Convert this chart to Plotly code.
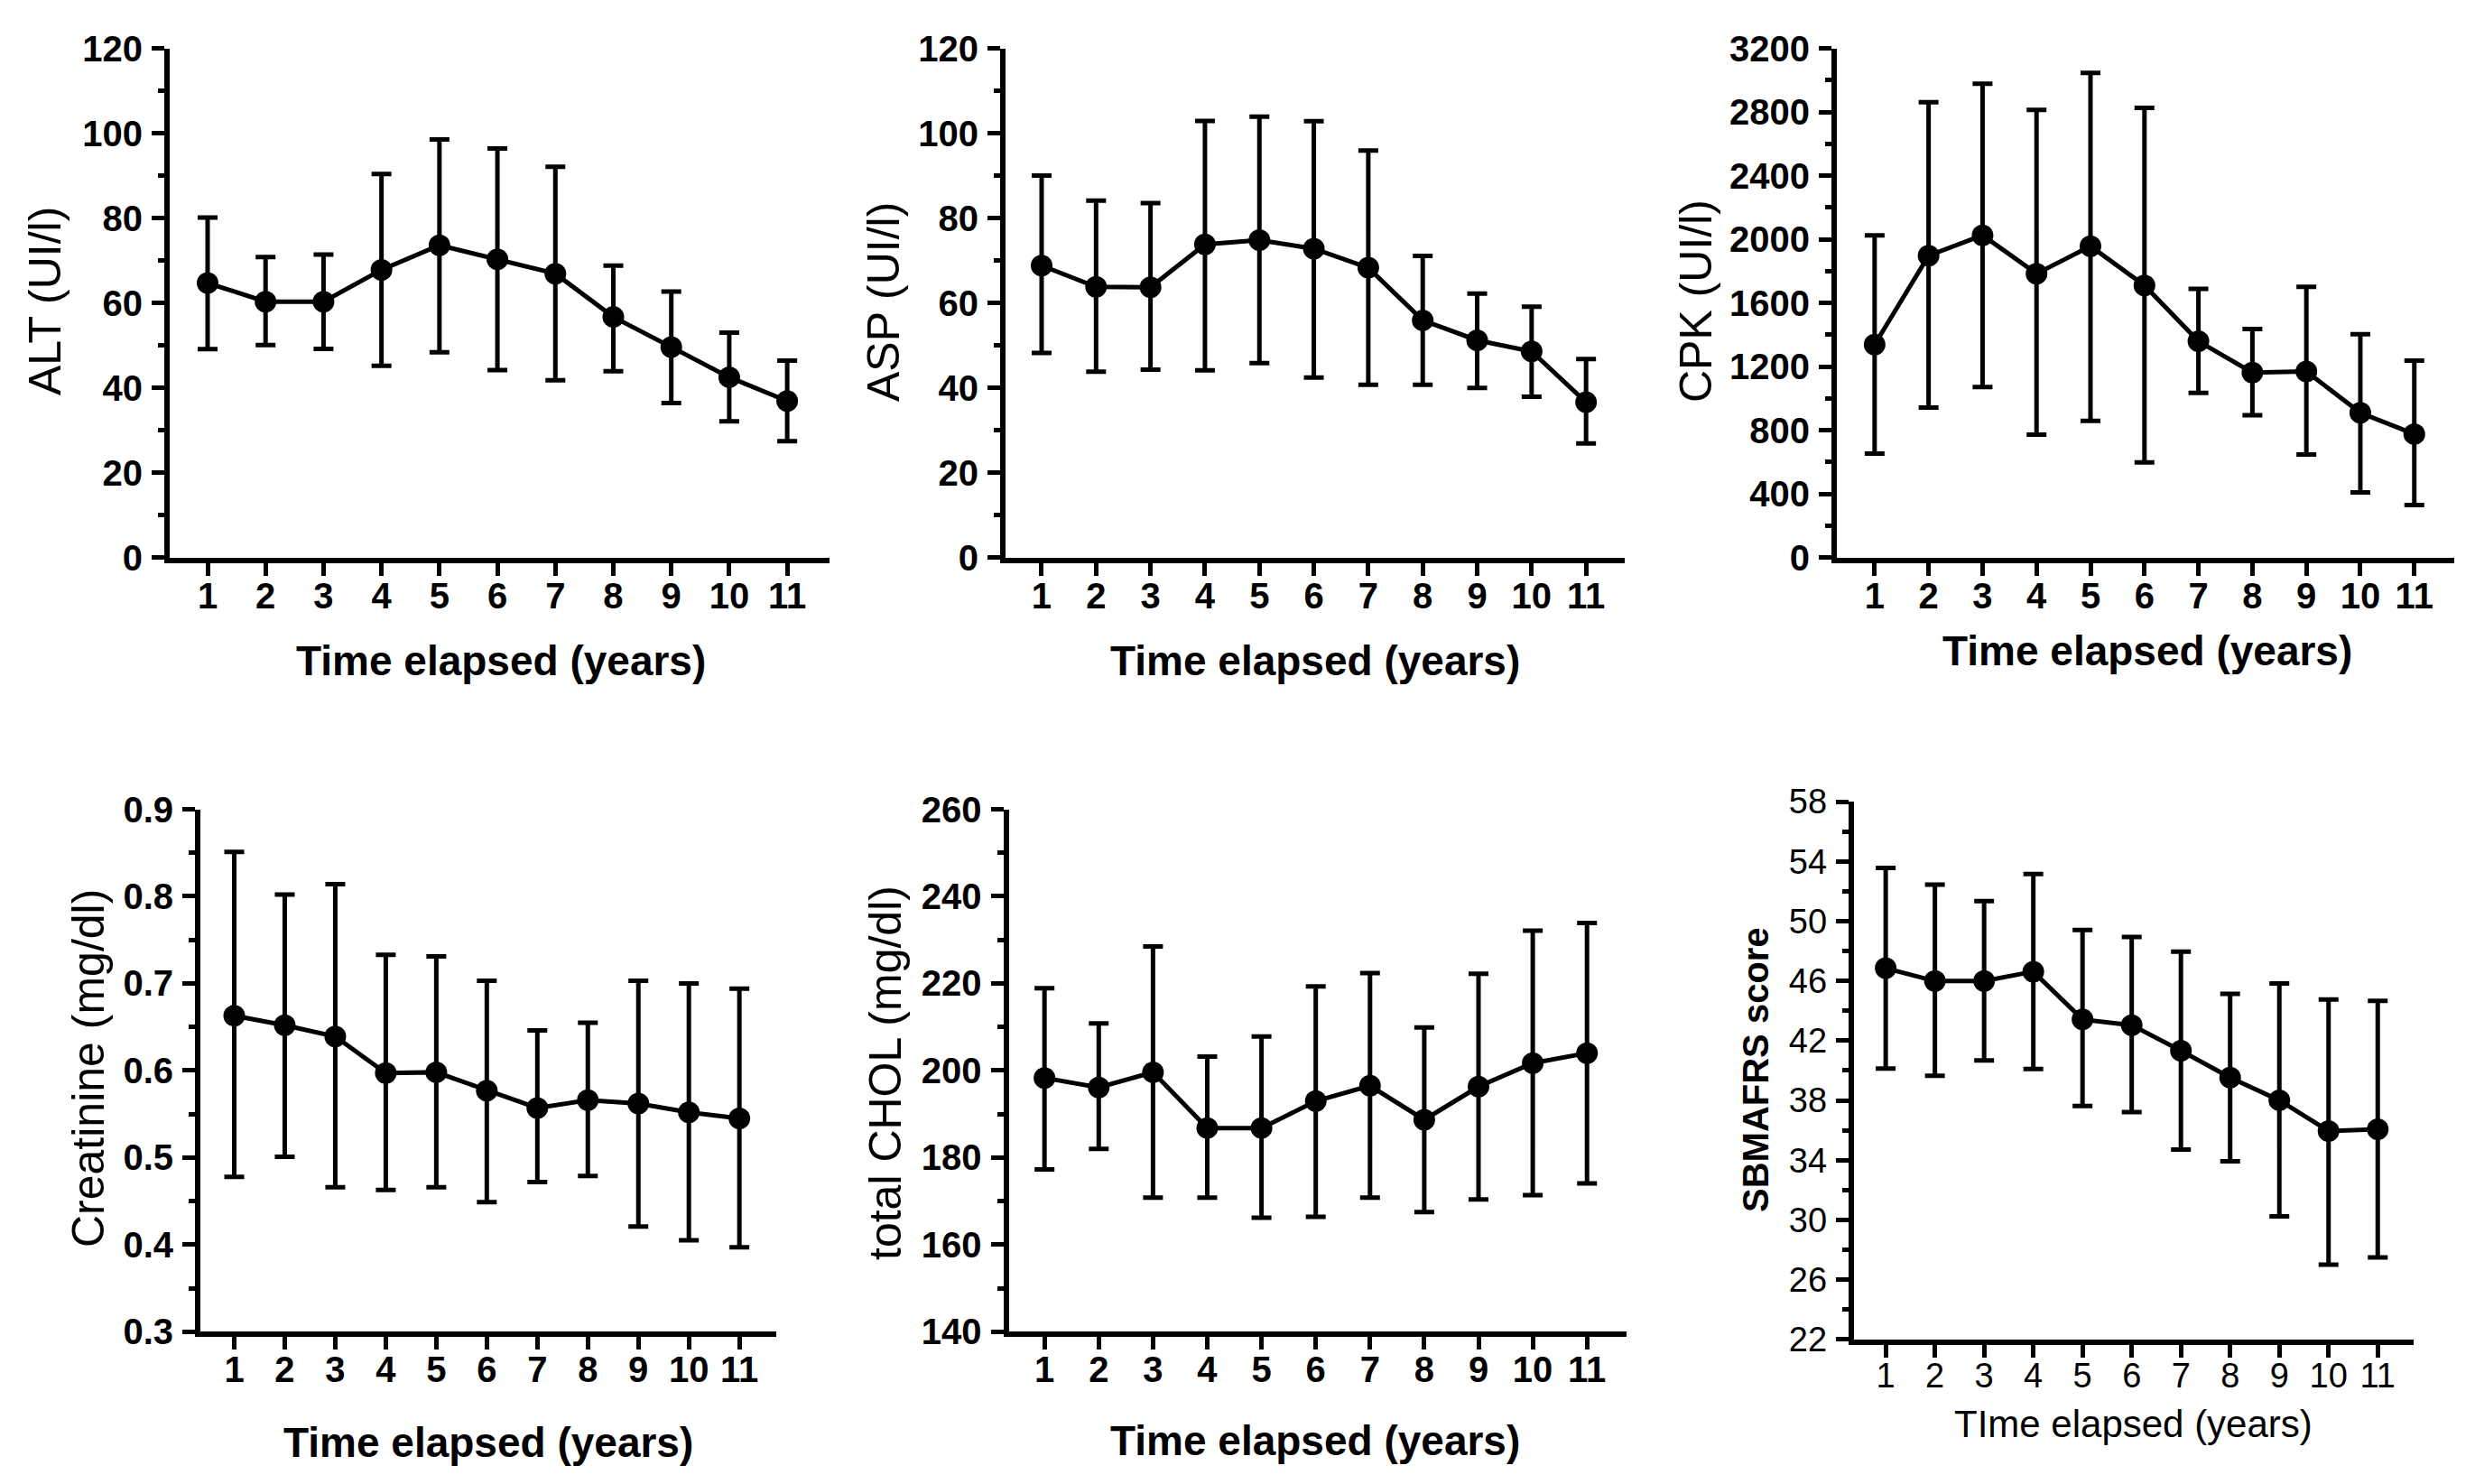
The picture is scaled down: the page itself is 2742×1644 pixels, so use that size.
import plotly.graph_objects as go

# ---------------- data ----------------
years = [1, 2, 3, 4, 5, 6, 7, 8, 9, 10, 11]

alt_mean  = [64.7, 60.3, 60.3, 67.8, 73.6, 70.3, 66.9, 56.7, 49.6, 42.5, 36.9]
alt_upper = [80.1, 70.8, 71.4, 90.4, 98.5, 96.4, 92.1, 68.8, 62.7, 53.0, 46.4]
alt_lower = [49.1, 50.1, 49.2, 45.2, 48.4, 44.2, 41.8, 43.9, 36.4, 32.1, 27.4]

asp_mean  = [68.8, 63.8, 63.7, 73.8, 74.8, 72.8, 68.3, 55.9, 51.2, 48.6, 36.6]
asp_upper = [90.0, 84.1, 83.5, 102.9, 103.9, 102.8, 95.9, 71.1, 62.2, 59.1, 46.8]
asp_lower = [48.2, 43.8, 44.3, 44.1, 45.8, 42.4, 40.7, 40.7, 40.0, 37.9, 26.9]

cpk_mean  = [1338, 1897, 2025, 1784, 1957, 1710, 1359, 1163, 1169, 910, 776]
cpk_upper = [2025, 2861, 2977, 2813, 3045, 2825, 1689, 1436, 1701, 1404, 1237]
cpk_lower = [654, 943, 1071, 773, 859, 598, 1035, 895, 648, 410, 330]

crea_mean  = [0.663, 0.652, 0.639, 0.597, 0.598, 0.577, 0.557, 0.566, 0.562, 0.552, 0.545]
crea_upper = [0.851, 0.802, 0.814, 0.733, 0.731, 0.703, 0.646, 0.655, 0.703, 0.700, 0.694]
crea_lower = [0.478, 0.501, 0.466, 0.463, 0.466, 0.449, 0.472, 0.479, 0.421, 0.405, 0.397]

chol_mean  = [198.3, 196.1, 199.6, 186.8, 186.8, 193.0, 196.5, 188.7, 196.3, 201.7, 204.0]
chol_upper = [218.9, 210.8, 228.5, 203.2, 207.8, 219.3, 222.4, 209.9, 222.2, 232.1, 233.9]
chol_lower = [177.3, 182.0, 170.8, 170.8, 166.2, 166.4, 170.8, 167.5, 170.4, 171.4, 174.1]

sbma_mean  = [46.85, 45.99, 45.99, 46.62, 43.42, 43.04, 41.33, 39.53, 38.01, 35.95, 36.07]
sbma_upper = [53.56, 52.45, 51.35, 53.15, 49.41, 48.94, 47.96, 45.13, 45.83, 44.76, 44.66]
sbma_lower = [40.13, 39.65, 40.67, 40.10, 37.63, 37.21, 34.71, 33.92, 30.24, 27.00, 27.49]

x_title = "Time elapsed (years)"
x_title_sbma = "TIme elapsed (years)"
y_titles = ["ALT (UI/l)", "ASP (UI/l)", "CPK (UI/l)",
            "Creatinine (mg/dl)", "total CHOL (mg/dl)", "SBMAFRS score"]

# ---------------- layout geometry (pixels of a 2742x1644 canvas) ----------------
W, H = 2742, 1644
FONT = "Liberation Sans, Arial, Helvetica, sans-serif"

panels = [
    dict(mean=alt_mean, up=alt_upper, lo=alt_lower, yr=[0, 120], dt=20, fmt="d",
         px=(188, 919), py=(53.5, 617.7), xr=[0.346, 11.73],
         ytit=(50, 334), xtit=(555, 731.5), style="bold"),
    dict(mean=asp_mean, up=asp_upper, lo=asp_lower, yr=[0, 120], dt=20, fmt="d",
         px=(1114, 1800), py=(53.5, 617.7), xr=[0.337, 11.71],
         ytit=(979, 334), xtit=(1457, 731.5), style="bold"),
    dict(mean=cpk_mean, up=cpk_upper, lo=cpk_lower, yr=[0, 3200], dt=400, fmt="d",
         px=(2035, 2719), py=(53.5, 617.7), xr=[0.30, 11.74],
         ytit=(1879, 334), xtit=(2379, 721), style="bold"),
    dict(mean=crea_mean, up=crea_upper, lo=crea_lower, yr=[0.3, 0.9], dt=0.1, fmt=".1f",
         px=(222, 860), py=(896.5, 1475.4), xr=[0.33, 11.73],
         ytit=(98, 1184), xtit=(541, 1598), style="bold"),
    dict(mean=chol_mean, up=chol_upper, lo=chol_lower, yr=[140, 260], dt=20, fmt="d",
         px=(1117.5, 1801.5), py=(896.5, 1475.4), xr=[0.34, 11.72],
         ytit=(981, 1189), xtit=(1457, 1595.5), style="bold"),
    dict(mean=sbma_mean, up=sbma_upper, lo=sbma_lower, yr=[22, 58], dt=4, fmt="d",
         px=(2053.7, 2673.5), py=(888.1, 1483.8), xr=[0.35, 11.72],
         ytit=(1945, 1185), xtit=(2363, 1577), style="plain"),
]

fig = go.Figure()
annotations = []
layout_axes = {}

for i, p in enumerate(panels):
    n = i + 1
    xa = "x" if n == 1 else f"x{n}"
    ya = "y" if n == 1 else f"y{n}"
    err_plus = [u - m for u, m in zip(p["up"], p["mean"])]
    err_minus = [m - l for m, l in zip(p["mean"], p["lo"])]
    fig.add_trace(go.Scatter(
        x=years, y=p["mean"], xaxis=xa, yaxis=ya,
        mode="lines+markers",
        line=dict(color="black", width=5),
        marker=dict(color="black", size=24, symbol="circle"),
        error_y=dict(type="data", symmetric=False, array=err_plus, arrayminus=err_minus,
                     color="black", thickness=5, width=11),
        showlegend=False, cliponaxis=False,
    ))

    bold = p["style"] == "bold"
    tick_font = dict(family=FONT, size=40 if bold else 38, color="black",
                     weight="bold" if bold else "normal")
    x0, x1 = p["px"]
    y0, y1 = p["py"]
    xkey = "xaxis" if n == 1 else f"xaxis{n}"
    ykey = "yaxis" if n == 1 else f"yaxis{n}"
    layout_axes[xkey] = dict(
        domain=[x0 / W, x1 / W], anchor=ya, range=p["xr"], automargin=False,
        tickmode="array", tickvals=years, ticktext=[str(v) for v in years],
        showline=True, linecolor="black", linewidth=6, mirror=False,
        ticks="outside", ticklen=14, tickwidth=5, tickcolor="black",
        tickfont=tick_font, showgrid=False, zeroline=False, ticklabelstandoff=-12,
    )
    layout_axes[ykey] = dict(
        domain=[1 - y1 / H, 1 - y0 / H], anchor=xa, range=p["yr"], automargin=False,
        tick0=p["yr"][0], dtick=p["dt"], tickformat=p["fmt"],
        showline=True, linecolor="black", linewidth=6,
        ticks="outside", ticklen=14, tickwidth=5, tickcolor="black",
        minor=dict(dtick=p["dt"] / 2, tick0=p["yr"][0], ticks="outside", ticklen=7,
                   tickwidth=5, tickcolor="black", showgrid=False),
        tickfont=tick_font, showgrid=False, zeroline=False, ticklabelstandoff=2,
    )

    # y-axis title
    annotations.append(dict(
        text=y_titles[i], xref="paper", yref="paper",
        x=p["ytit"][0] / W, y=1 - p["ytit"][1] / H, xanchor="center", yanchor="middle",
        textangle=-90, showarrow=False,
        font=dict(family=FONT, size=50 if bold else 40, color="black",
                  weight="normal" if bold else "bold"),
    ))
    # x-axis title
    annotations.append(dict(
        text=x_title if bold else x_title_sbma, xref="paper", yref="paper",
        x=p["xtit"][0] / W, y=1 - p["xtit"][1] / H, xanchor="center", yanchor="middle",
        showarrow=False,
        font=dict(family=FONT, size=46 if bold else 42, color="black",
                  weight="bold" if bold else "normal"),
    ))

fig.update_layout(
    template="none",
    width=W, height=H,
    margin=dict(l=0, r=0, t=0, b=0, pad=0, autoexpand=False),
    paper_bgcolor="white", plot_bgcolor="white",
    annotations=annotations,
    **layout_axes,
)

fig.write_html("out.html",
               config={"displayModeBar": False},
               post_script="document.body.style.margin='0';document.body.style.overflow='hidden';")
